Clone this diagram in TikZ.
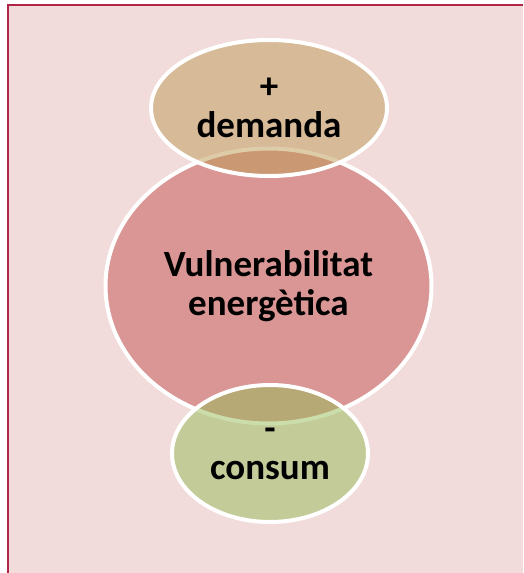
\documentclass[tikz,border=0pt]{standalone}
\usepackage{fontspec}
\setmainfont{Carlito}
\usetikzlibrary{shapes.geometric}

\definecolor{sheet}{HTML}{F2DCDB}
\definecolor{sheetline}{HTML}{B02446}
\definecolor{corefill}{HTML}{D99694}
\definecolor{upfill}{HTML}{BE9A55}
\definecolor{downfill}{HTML}{96BC59}

\begin{document}
\begin{tikzpicture}[
    x=1pt, y=-1pt,
    every node/.style={ellipse, inner sep=0pt, align=center,
        font=\bfseries\fontsize{37}{39}\selectfont},
    bubble/.style={draw=white, line width=4pt},
    side/.style={bubble, fill opacity=0.5, text opacity=1}]

    \useasboundingbox (0,0) rectangle (523,573);
    \fill[sheet] (8,5) rectangle (523,573);
    \draw[sheetline, line width=2pt] (8,573) -- (8,5) -- (523,5);

    % centre first, the two small ones lie over it
    \node[bubble, fill=corefill, minimum width=326, minimum height=275]
        (core) at (268.5,286) {Vulnerabilitat\\energètica};
    \node[side, fill=upfill, minimum width=236, minimum height=136]
        (demand) at (269,108) {+\\demanda};
    \node[side, fill=downfill, minimum width=196, minimum height=137]
        (use) at (270,453.5) {-\\consum};

\end{tikzpicture}
\end{document}
